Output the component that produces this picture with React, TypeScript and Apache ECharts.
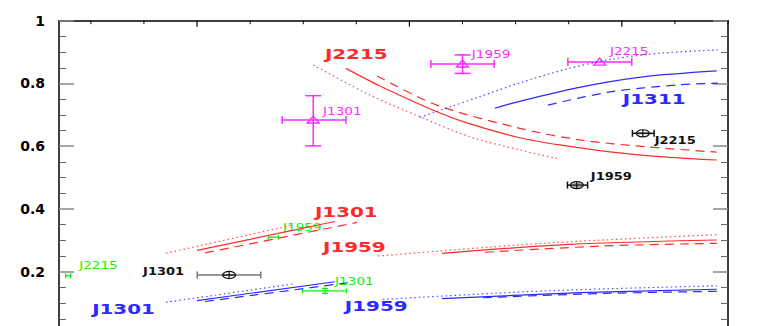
import React, { useEffect, useRef } from "react";
import * as echarts from "echarts";

// ---- axes ----
const X_MIN = 0.35;
const X_MAX = 3.5;
const xMajorTicks = [1, 2, 3];
const xMinorTicks = [0.5, 0.75, 1.25, 1.5, 1.75, 2.25, 2.5, 2.75, 3.25, 3.5];
const Y_MIN = 0;
const Y_MAX = 1;
const Y_STEP = 0.2;

// ---- model curves [x, y] ----
const j2215Solid = [[1.701, 0.848], [1.861, 0.792], [2.129, 0.71], [2.285, 0.671], [2.52, 0.627], [2.708, 0.604], [2.944, 0.582], [3.179, 0.567], [3.447, 0.556]];
const j2215Dashed = [[1.847, 0.824], [2.129, 0.731], [2.52, 0.657], [2.802, 0.62], [3.118, 0.598], [3.447, 0.581]];
const j2215Dotted = [[1.547, 0.859], [1.814, 0.763], [2.049, 0.694], [2.285, 0.63], [2.52, 0.588], [2.694, 0.561]];
const j1311Dotted = [[2.049, 0.692], [2.191, 0.725], [2.332, 0.758], [2.52, 0.802], [2.741, 0.846], [2.958, 0.878], [3.193, 0.897], [3.452, 0.907]];
const j1311Solid = [[2.402, 0.721], [2.473, 0.735], [2.788, 0.786], [3.099, 0.821], [3.447, 0.84]];
const j1311Dashed = [[2.652, 0.731], [2.944, 0.773], [3.259, 0.795], [3.452, 0.801]];
const j1301RedDotted = [[0.854, 0.259], [1.452, 0.349]];
const j1301RedSolid = [[1.0, 0.268], [1.649, 0.36]];
const j1301RedDashed = [[1.038, 0.26], [1.753, 0.357]];
const j1959RedDotted = [[1.852, 0.25], [2.628, 0.2905], [3.447, 0.318]];
const j1959RedSolid = [[2.153, 0.2587], [2.755, 0.287], [3.447, 0.301]];
const j1959RedDashed = [[2.355, 0.262], [2.911, 0.282], [3.447, 0.2905]];
const j1301BlueDotted = [[0.854, 0.1025], [1.452, 0.161]];
const j1301BlueSolid = [[1.0, 0.108], [1.649, 0.168]];
const j1301BlueDashed = [[1.038, 0.105], [1.72, 0.1656]];
const j1959BlueDotted = [[1.875, 0.112], [2.647, 0.139], [3.447, 0.155]];
const j1959BlueSolid = [[2.153, 0.114], [2.802, 0.133], [3.447, 0.144]];
const j1959BlueDashed = [[2.346, 0.117], [2.896, 0.1305], [3.447, 0.1375]];

// ---- measured points: [x, y, xLow, xHigh, yLow, yHigh] ----
const magentaPoints = [
  [1.547, 0.6835, 1.401, 1.701, 0.601, 0.761], // J1301
  [2.25, 0.862, 2.101, 2.399, 0.832, 0.891], // J1959
  [2.896, 0.868, 2.746, 3.047, 0.866, 0.87], // J2215
];
const blackPoints = [
  [1.151, 0.1895, 1.001, 1.3, 0.1895, 0.1895], // J1301
  [2.788, 0.476, 2.744, 2.839, 0.476, 0.476], // J1959
  [3.099, 0.641, 3.05, 3.152, 0.641, 0.641], // J2215
];
const greenPoints = [
  [0.393, 0.187, 0.381, 0.405, 0.187, 0.187], // J2215
  [1.359, 0.31, 1.336, 1.383, 0.31, 0.31], // J1959
  [1.602, 0.139, 1.497, 1.704, 0.131, 0.147], // J1301
];

// ---- labels: [text, x, y] ----
const redCurveLabels = [["J2215", 1.602, 0.894], ["J1301", 1.555, 0.39], ["J1959", 1.593, 0.279]];
const blueCurveLabels = [["J1311", 3.005, 0.75], ["J1301", 0.506, 0.081], ["J1959", 1.696, 0.091]];
const magentaLabels = [["J1301", 1.593, 0.71], ["J1959", 2.294, 0.891], ["J2215", 2.944, 0.9]];
const blackLabels = [["J1301", 0.746, 0.202], ["J1959", 2.854, 0.503], ["J2215", 3.155, 0.618]];
const greenLabels = [["J2215", 0.445, 0.218], ["J1959", 1.405, 0.339], ["J1301", 1.65, 0.167]];

// ---- styles ----
const RED = "#ff2b2b";
const BLUE = "#2b2bff";
const MAGENTA = "#ff2bff";
const GREEN = "#11ee11";
const DASH = [9, 6];
const DOT = [1.5, 3];
const blackBarColors = ["#777777", "#111111", "#111111"];
const blackFills = ["none", "#aaaaaa", "none"];

function curve(data: number[][], color: string, kind: string) {
  return {
    type: "line",
    data,
    symbol: "none",
    showSymbol: false,
    smooth: 0.3,
    silent: true,
    lineStyle: {
      color,
      width: 1.2,
      type: kind === "dashed" ? DASH : kind === "dotted" ? DOT : "solid",
      opacity: kind === "dotted" ? 0.85 : 1,
    },
  };
}

function errSeries(data: number[][], opts: any) {
  return {
    type: "custom",
    data,
    clip: false,
    silent: true,
    renderItem: (params: any, api: any) => {
      const i = params.dataIndex;
      const x = api.value(0);
      const y = api.value(1);
      const c = api.coord([x, y]);
      const l = api.coord([api.value(2), y]);
      const r = api.coord([api.value(3), y]);
      const lo = api.coord([x, api.value(4)]);
      const hi = api.coord([x, api.value(5)]);
      const col = opts.barColors ? opts.barColors[i] : opts.color;
      const st = { stroke: col, lineWidth: opts.lw, fill: null };
      const ch: any[] = [];
      const ln = (x1: number, y1: number, x2: number, y2: number, s: any = st) =>
        ch.push({ type: "line", shape: { x1, y1, x2, y2 }, style: s });
      ln(l[0], l[1], r[0], r[1]);
      ln(l[0], l[1] - opts.capX, l[0], l[1] + opts.capX);
      ln(r[0], r[1] - opts.capX, r[0], r[1] + opts.capX);
      if (Math.abs(hi[1] - lo[1]) > 1.5) {
        ln(lo[0], lo[1], hi[0], hi[1]);
        ln(lo[0] - opts.capY, lo[1], lo[0] + opts.capY, lo[1]);
        ln(hi[0] - opts.capY, hi[1], hi[0] + opts.capY, hi[1]);
      }
      if (opts.marker === "triangle") {
        ch.push({
          type: "polygon",
          shape: { points: [[c[0] - 6, c[1] + 3], [c[0], c[1] - 4], [c[0] + 6, c[1] + 3]] },
          style: { stroke: opts.color, lineWidth: 1.3, fill: "none" },
        });
      } else if (opts.marker === "oplus") {
        const ms = { stroke: "#111", lineWidth: 1.2, fill: blackFills[i] };
        ch.push({ type: "ellipse", shape: { cx: c[0], cy: c[1], rx: 6.5, ry: 3.6 }, style: ms });
        ln(c[0], c[1] - 3.6, c[0], c[1] + 3.6, { stroke: "#111", lineWidth: 1.2 });
        ln(c[0] - 6.5, c[1], c[0] + 6.5, c[1], { stroke: "#111", lineWidth: 1.2 });
      }
      return { type: "group", children: ch };
    },
  };
}

// top-axis tick marks, placed through the x scale at the top of the plot
function topTickSeries(values: number[], length: number, width: number) {
  return {
    type: "custom",
    data: values.map((v) => [v, Y_MAX]),
    clip: false,
    silent: true,
    renderItem: (params: any, api: any) => {
      const p = api.coord([api.value(0), api.value(1)]);
      return {
        type: "line",
        shape: { x1: p[0], y1: p[1], x2: p[0], y2: p[1] + length },
        style: { stroke: "#000", lineWidth: width },
      };
    },
  };
}

function labelSeries(labels: any[], color: string, size: number, weight: string, scaleX: number) {
  return {
    type: "custom",
    data: labels.map((l) => [l[1], l[2]]),
    clip: false,
    silent: true,
    renderItem: (params: any, api: any) => {
      const p = api.coord([api.value(0), api.value(1)]);
      return {
        type: "text",
        x: p[0],
        y: p[1],
        scaleX,
        style: {
          text: labels[params.dataIndex][0],
          fill: color,
          fontSize: size,
          fontWeight: weight,
          fontFamily: "DejaVu Sans",
          align: "left",
          verticalAlign: "middle",
        },
      };
    },
  };
}

export default function App() {
  const ref = useRef<HTMLDivElement>(null);
  useEffect(() => {
    if (!ref.current) return;
    const chart = echarts.init(ref.current, null, { renderer: "svg" });
    const yAxisBase = {
      type: "value",
      min: Y_MIN,
      max: Y_MAX,
      interval: Y_STEP,
      axisLine: { show: true, onZero: false, lineStyle: { color: "#000", width: 1.5 } },
      axisTick: { show: true, inside: true, length: 15, lineStyle: { color: "#888", width: 1.5 } },
      minorTick: { show: true, splitNumber: 4, length: 7, lineStyle: { color: "#666", width: 1 } },
      splitLine: { show: false },
      minorSplitLine: { show: false },
    };
    const option: any = {
      animation: false,
      backgroundColor: "#fff",
      grid: { left: 59, right: 42, top: 20.7, bottom: -8.45, containLabel: false, outerBoundsMode: "none" },
      xAxis: {
        type: "value",
        position: "top",
        min: X_MIN,
        max: X_MAX,
        axisLine: { show: true, onZero: false, lineStyle: { color: "#000", width: 1.5 } },
        axisTick: { show: false },
        axisLabel: { show: false },
        splitLine: { show: false },
      },
      yAxis: [
        {
          ...yAxisBase,
          position: "left",
          axisLabel: {
            show: true,
            showMinLabel: false,
            color: "#000",
            fontSize: 14,
            fontWeight: "bold",
            fontFamily: "DejaVu Sans",
            margin: 14,
          },
        },
        { ...yAxisBase, position: "right", axisLabel: { show: false } },
      ],
      series: [
        topTickSeries(xMajorTicks, 6, 1.2),
        topTickSeries(xMinorTicks, 3.5, 1),
        curve(j2215Solid, RED, "solid"),
        curve(j2215Dashed, RED, "dashed"),
        curve(j2215Dotted, RED, "dotted"),
        curve(j1311Dotted, BLUE, "dotted"),
        curve(j1311Solid, BLUE, "solid"),
        curve(j1311Dashed, BLUE, "dashed"),
        curve(j1301RedDotted, RED, "dotted"),
        curve(j1301RedSolid, RED, "solid"),
        curve(j1301RedDashed, RED, "dashed"),
        curve(j1959RedDotted, RED, "dotted"),
        curve(j1959RedSolid, RED, "solid"),
        curve(j1959RedDashed, RED, "dashed"),
        curve(j1301BlueDotted, BLUE, "dotted"),
        curve(j1301BlueSolid, BLUE, "solid"),
        curve(j1301BlueDashed, BLUE, "dashed"),
        curve(j1959BlueDotted, BLUE, "dotted"),
        curve(j1959BlueSolid, BLUE, "solid"),
        curve(j1959BlueDashed, BLUE, "dashed"),
        errSeries(magentaPoints, { color: MAGENTA, lw: 1.5, capX: 4, capY: 8, marker: "triangle" }),
        errSeries(blackPoints, { color: "#111", barColors: blackBarColors, lw: 1.5, capX: 3.5, capY: 3, marker: "oplus" }),
        errSeries(greenPoints, { color: GREEN, lw: 1.3, capX: 2.5, capY: 3, marker: "none" }),
        labelSeries(redCurveLabels, RED, 14, "bold", 1.42),
        labelSeries(blueCurveLabels, BLUE, 14, "bold", 1.42),
        labelSeries(magentaLabels, MAGENTA, 10, "normal", 1.36),
        labelSeries(blackLabels, "#111", 10, "bold", 1.3),
        labelSeries(greenLabels, GREEN, 10, "normal", 1.36),
      ],
    };
    chart.setOption(option);
    return () => chart.dispose();
  }, []);
  return (
    <div
      ref={ref}
      style={{ position: "fixed", left: 0, top: 0, width: 770, height: 326, background: "#fff" }}
    />
  );
}
